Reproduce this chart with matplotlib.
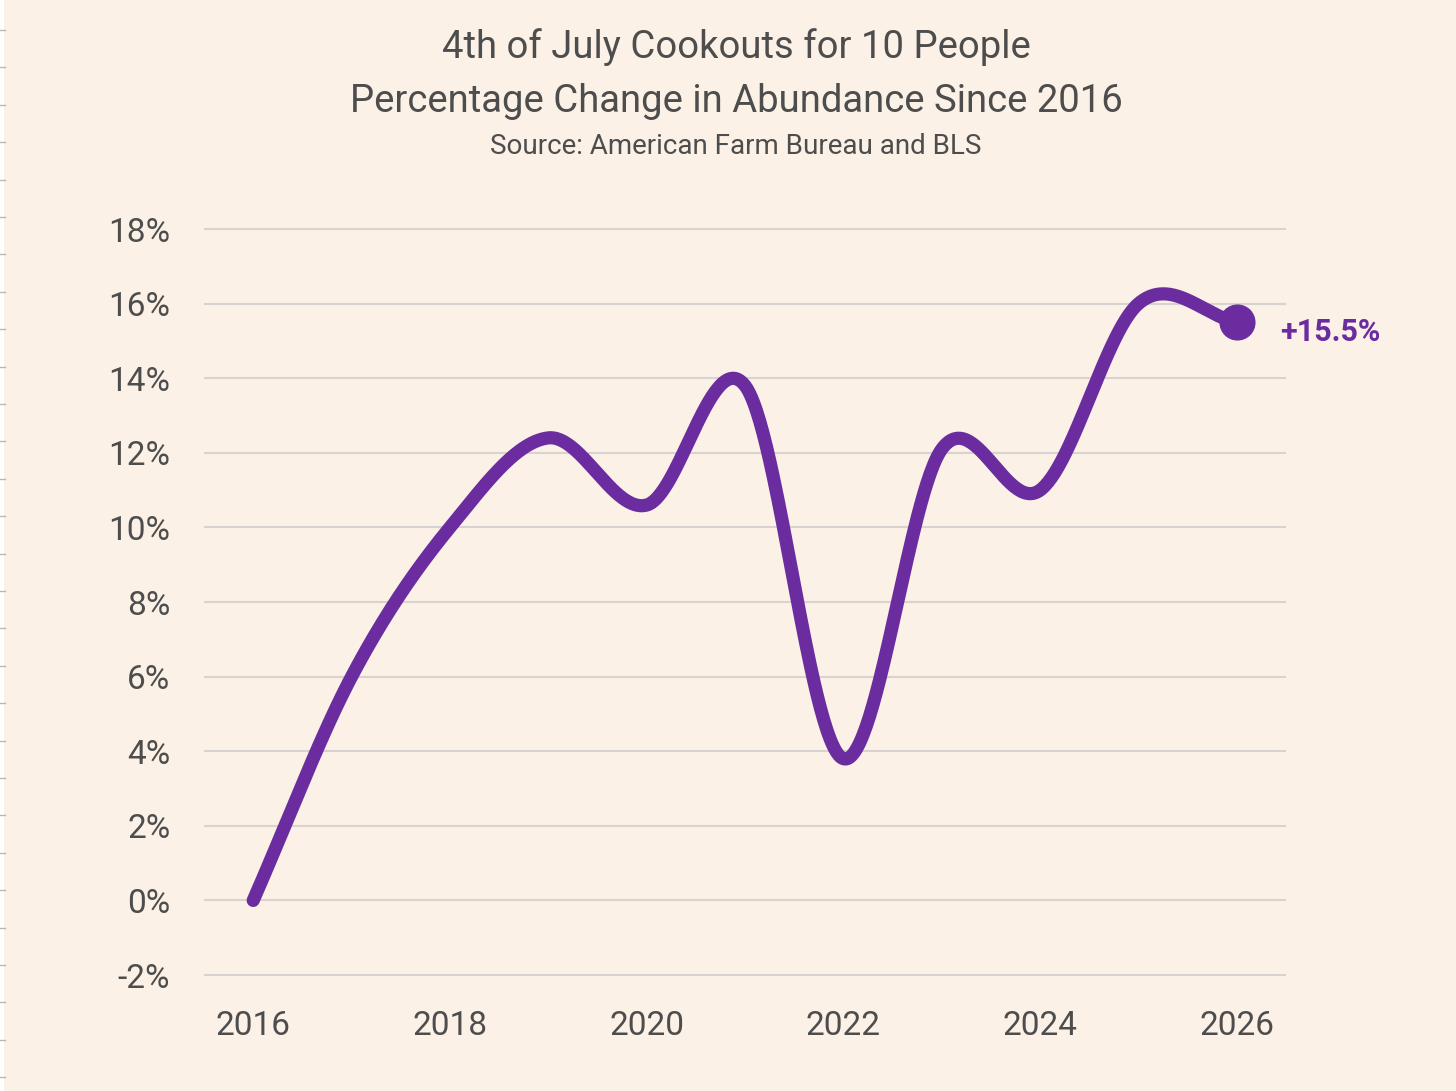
import numpy as np
import matplotlib.pyplot as plt
from matplotlib import font_manager

# data
years = [2016, 2017, 2018, 2019, 2020, 2021, 2022, 2023, 2024, 2025, 2026]
abundance = [0.0, 6.0, 10.0, 12.4, 10.6, 13.8, 3.8, 12.1, 11.0, 16.0, 15.5]

title_lines = ["4th of July Cookouts for 10 People",
               "Percentage Change in Abundance Since 2016"]
source_text = "Source: American Farm Bureau and BLS"
y_ticks = [-2, 0, 2, 4, 6, 8, 10, 12, 14, 16, 18]
x_ticks = [2016, 2018, 2020, 2022, 2024, 2026]
end_label = "+15.5%"

BG = "#fbf1e6"
PURPLE = "#6a2c9f"
TEXT = "#4d4d4d"
GRID = "#d6d3d0"

installed = {f.name for f in font_manager.fontManager.ttflist}
family = [f for f in ["Liberation Sans Narrow", "Roboto", "DejaVu Sans"] if f in installed]
plt.rcParams['font.family'] = family


def smooth(x, y, n=60):
    # cubic hermite through the points, catmull-rom style tangents
    x = np.asarray(x, float)
    y = np.asarray(y, float)
    m = np.empty_like(y)
    m[1:-1] = (y[2:] - y[:-2]) / (x[2:] - x[:-2])
    m[0] = (y[1] - y[0]) / (x[1] - x[0])
    m[-1] = (y[-1] - y[-2]) / (x[-1] - x[-2])
    xs, ys = [], []
    for i in range(len(x) - 1):
        h = x[i + 1] - x[i]
        t = np.linspace(0, 1, n, endpoint=(i == len(x) - 2))
        h00 = 2 * t**3 - 3 * t**2 + 1
        h10 = t**3 - 2 * t**2 + t
        h01 = -2 * t**3 + 3 * t**2
        h11 = t**3 - t**2
        xs.append(x[i] + t * h)
        ys.append(h00 * y[i] + h10 * h * m[i] + h01 * y[i + 1] + h11 * h * m[i + 1])
    return np.concatenate(xs), np.concatenate(ys)


fig = plt.figure(figsize=(14.56, 10.91), dpi=100, facecolor=BG)
ax = fig.add_axes([0.1408, 0.1063, 0.7418, 0.6838])
ax.set_facecolor(BG)

# thin white strip with ticks on the left edge of the screenshot
fig.patches.append(plt.Rectangle((0, 0), 4 / 1456, 1, transform=fig.transFigure,
                                 facecolor="white", edgecolor="none", zorder=0))
for yp in np.arange(30, 1091, 37.4):
    fig.add_artist(plt.Line2D([0, 5 / 1456], [1 - yp / 1091] * 2, transform=fig.transFigure,
                              color="#b8b8b8", lw=1))

xs, ys = smooth(years, abundance)
ax.plot(xs, ys, color=PURPLE, lw=9.5, solid_capstyle="round", solid_joinstyle="round",
        zorder=3, clip_on=False)
ax.plot(years[-1], abundance[-1], "o", color=PURPLE, ms=25, zorder=4, clip_on=False)
ax.annotate(end_label, (years[-1], abundance[-1]), xytext=(31, -7), textcoords="offset points",
            ha="left", va="center", color=PURPLE, fontsize=22, fontweight="bold")

ax.set_xlim(2015.51, 2026.49)
ax.set_ylim(-2, 18)
ax.set_yticks(y_ticks)
ax.set_yticklabels([f"{v}%" for v in y_ticks])
ax.set_xticks(x_ticks)
ax.set_xticklabels([str(v) for v in x_ticks])
for v in y_ticks:
    ax.axhline(v, color=GRID, lw=1.5, zorder=1, clip_on=False)

ax.tick_params(axis="y", length=0, pad=25, labelsize=24, labelcolor=TEXT)
ax.tick_params(axis="x", length=0, pad=25, labelsize=24, labelcolor=TEXT)
for s in ax.spines.values():
    s.set_visible(False)

fig.text(0.5055, 1 - 47 / 1091, title_lines[0], ha="center", va="center", fontsize=27.5, color=TEXT)
fig.text(0.5055, 1 - 102 / 1091, title_lines[1], ha="center", va="center", fontsize=27.5, color=TEXT)
fig.text(0.5055, 1 - 146 / 1091, source_text, ha="center", va="center", fontsize=20, color=TEXT)

fig.savefig("out.png", dpi=100, facecolor=BG)
